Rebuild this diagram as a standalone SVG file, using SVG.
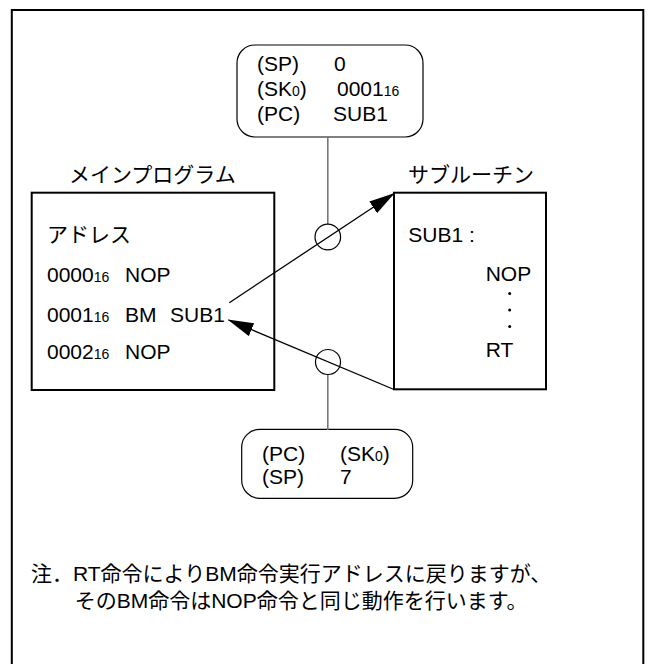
<svg xmlns="http://www.w3.org/2000/svg" width="648" height="664" viewBox="0 0 648 664">
<defs>
<style>
text{font-family:"Liberation Sans","Noto Sans CJK JP",sans-serif;font-size:21px;fill:#000}
.sub{font-size:14px}
.box{fill:#fff;stroke:#000;stroke-width:2}
.reg{fill:#fff;stroke:#000;stroke-width:1.2}
.arr{fill:none;stroke:#000;stroke-width:1.3}
.vc{fill:none;stroke:#777;stroke-width:1.6}
.ring{fill:#fff;fill-opacity:0;stroke:#000;stroke-width:1.2}
.dot{fill:#000}
.note{font-size:21px}
</style>
<marker id="ah" markerUnits="userSpaceOnUse" markerWidth="26" markerHeight="14" viewBox="0 0 26 14" refX="25" refY="7" orient="auto">
<path d="M0,0 L26,7 L0,14 z" fill="#000"/>
</marker>
</defs>
<rect width="648" height="664" fill="#fff"/>
<rect x="11.8" y="10" width="631.5" height="680" fill="none" stroke="#000" stroke-width="2"/>

<g id="stack-before">
<rect class="reg" x="237" y="45" width="186" height="92" rx="18"/>
<text x="257" y="70.5">(SP)</text>
<text x="334" y="70.5">0</text>
<text x="257" y="95.5">(SK<tspan class="sub">0</tspan>)</text>
<text x="337" y="95.5">0001<tspan class="sub">16</tspan></text>
<text x="257" y="120.5">(PC)</text>
<text x="333" y="120.5">SUB1</text>
</g>

<g id="main-program">
<text x="69" y="182">メインプログラム</text>
<rect class="box" x="31.7" y="192.7" width="242.6" height="197.3"/>
<text x="47" y="241.7">アドレス</text>
<text x="47" y="281.7">0000<tspan class="sub">16</tspan></text>
<text x="125" y="281.7">NOP</text>
<text x="47" y="321.7">0001<tspan class="sub">16</tspan></text>
<text x="125" y="321.7">BM</text>
<text x="170" y="321.7">SUB1</text>
<text x="47" y="359.3">0002<tspan class="sub">16</tspan></text>
<text x="125" y="359.3">NOP</text>
</g>

<g id="subroutine">
<text x="408" y="182">サブルーチン</text>
<rect class="box" x="394" y="192.7" width="152" height="196.6"/>
<text x="408.3" y="241.7">SUB1 :</text>
<text x="485.7" y="280.7">NOP</text>
<circle class="dot" cx="509.7" cy="293.5" r="1.5"/>
<circle class="dot" cx="509.7" cy="310" r="1.5"/>
<circle class="dot" cx="509.7" cy="326.5" r="1.5"/>
<text x="485.7" y="357.3">RT</text>
</g>

<g id="stack-after">
<rect class="reg" x="241.7" y="429.3" width="171" height="69" rx="18"/>
<text x="262" y="460.5">(PC)</text>
<text x="340" y="460.5">(SK<tspan class="sub">0</tspan>)</text>
<text x="262" y="484">(SP)</text>
<text x="340" y="484">7</text>
</g>

<g id="connectors">
<line class="vc" x1="327.8" y1="137" x2="327.8" y2="224"/>
<line class="vc" x1="327.8" y1="375" x2="327.8" y2="430"/>
<line class="arr" x1="229.3" y1="302.7" x2="394" y2="193.5" marker-end="url(#ah)"/>
<line class="arr" x1="394" y1="389.5" x2="228.5" y2="320" marker-end="url(#ah)"/>
<circle class="ring" cx="327.8" cy="237" r="12.8"/>
<circle class="ring" cx="328" cy="362" r="12.5"/>
</g>

<g id="note">
<text class="note" x="31" y="581">注．RT命令によりBM命令実行アドレスに戻りますが、</text>
<text class="note" x="74.7" y="607.5">そのBM命令はNOP命令と同じ動作を行います。</text>
</g>
</svg>
